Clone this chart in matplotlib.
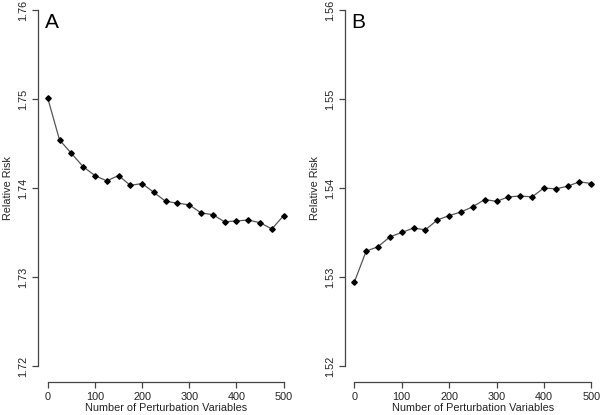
import numpy as np
import matplotlib.pyplot as plt

plt.rcParams['font.family'] = ['Liberation Sans', 'DejaVu Sans']

n_vars = [0, 25, 50, 75, 100, 125, 150, 175, 200, 225, 250,
          275, 300, 325, 350, 375, 400, 425, 450, 475, 500]

rr_a = [1.7501, 1.7454, 1.7439, 1.7424, 1.7414, 1.7408, 1.7414, 1.7403,
        1.7405, 1.7395, 1.7385, 1.7383, 1.7381, 1.7372, 1.7370, 1.7362,
        1.7363, 1.7364, 1.7361, 1.7354, 1.7369]

rr_b = [1.5294, 1.5329, 1.5334, 1.5345, 1.5350, 1.5355, 1.5353, 1.5364,
        1.5369, 1.5373, 1.5379, 1.5387, 1.5385, 1.5390, 1.5391, 1.5390,
        1.5400, 1.5399, 1.5402, 1.5407, 1.5405]

yticks_a = [1.72, 1.73, 1.74, 1.75, 1.76]
yticks_b = [1.52, 1.53, 1.54, 1.55, 1.56]
xticks = [0, 100, 200, 300, 400, 500]


def r_style_panel(ax, x, y, yticks, letter):
    ax.plot(x, y, color='#555555', lw=0.9, marker='D', ms=2.8,
            mfc='black', mec='black')
    pad_x = 0.04 * (xticks[-1] - xticks[0])
    pad_y = 0.04 * (yticks[-1] - yticks[0])
    ax.set_xlim(xticks[0] - pad_x, xticks[-1] + pad_x)
    ax.set_ylim(yticks[0] - pad_y, yticks[-1] + pad_y)
    for side in ['top', 'right']:
        ax.spines[side].set_visible(False)
    ax.spines['left'].set_bounds(yticks[0], yticks[-1])
    ax.spines['bottom'].set_bounds(xticks[0], xticks[-1])
    for side in ['left', 'bottom']:
        ax.spines[side].set_color('#444444')
        ax.spines[side].set_linewidth(0.9)
    ax.spines['bottom'].set_position(('outward', 1.5))
    ax.set_xticks(xticks)
    ax.set_yticks(yticks)
    ax.set_yticklabels(['%.2f' % v for v in yticks], rotation=90, va='center')
    ax.tick_params(direction='out', length=4, width=0.9, color='#444444',
                   labelsize=7.8, labelcolor='#222222', pad=3)
    ax.set_xlabel('Number of Perturbation Variables', fontsize=7.8,
                  color='#222222', labelpad=1)
    ax.set_ylabel('Relative Risk', fontsize=7.8, color='#222222', labelpad=4)
    ax.text(0.025, 0.955, letter, transform=ax.transAxes, fontsize=15,
            va='top', ha='left', color='black')


fig = plt.figure(figsize=(6, 4.15), dpi=100)
W, H = 600.0, 415.0
ax_a = fig.add_axes([38.3 / W, (H - 380.2) / H, (293.1 - 38.3) / W, (380.2 + 4.2) / H])
ax_b = fig.add_axes([344.8 / W, (H - 380.2) / H, (600.8 - 344.8) / W, (380.2 + 4.2) / H])
for a in (ax_a, ax_b):
    a.patch.set_alpha(0)

r_style_panel(ax_a, n_vars, rr_a, yticks_a, 'A')
r_style_panel(ax_b, n_vars, rr_b, yticks_b, 'B')

fig.savefig('out.png', dpi=100)
